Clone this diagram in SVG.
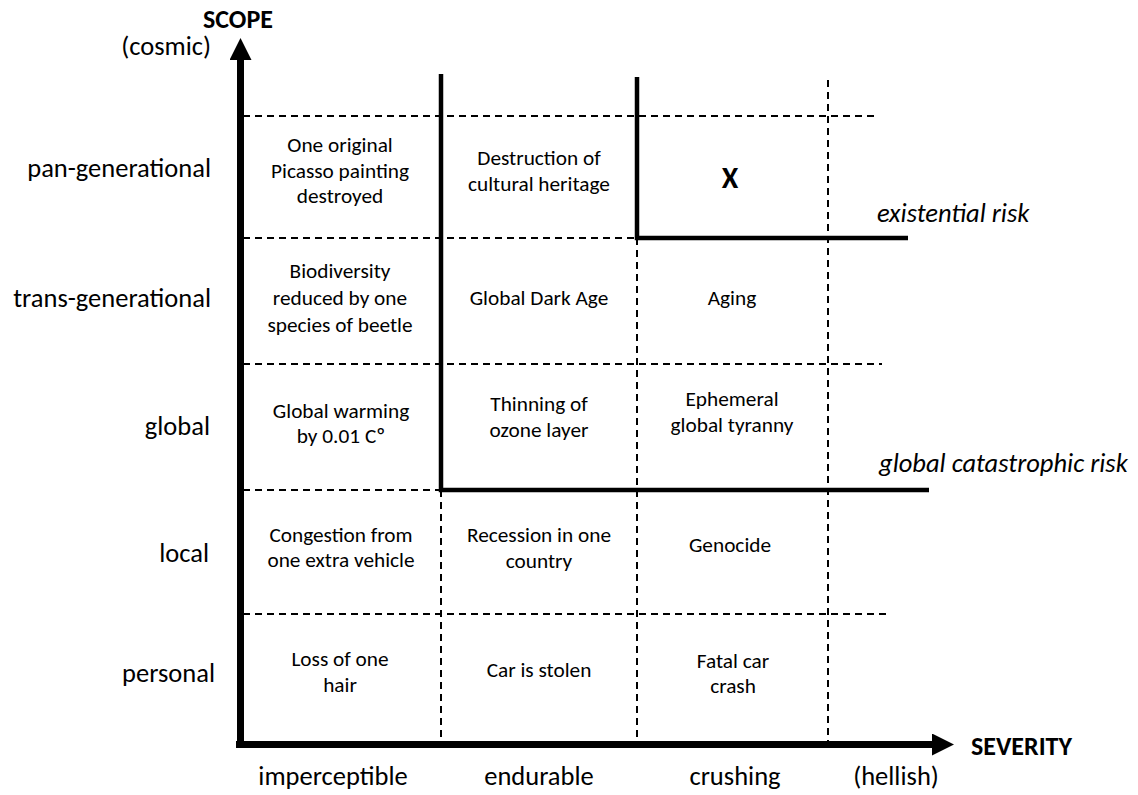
<svg xmlns="http://www.w3.org/2000/svg" width="1138" height="795" viewBox="0 0 1138 795">
<style>
text{font-family:Carlito,Calibri,Lato,"Liberation Sans",sans-serif;fill:#000}
.cell{font-size:21.3px;text-anchor:middle}
.lab{font-size:26.5px;text-anchor:end}
.bot{font-size:26.5px;text-anchor:middle}
.ax{font-size:26px;font-weight:bold}
.risk{font-size:26.5px;font-style:italic}
.dash{stroke:#000;stroke-width:2;stroke-dasharray:7 5;fill:none}
.solid{stroke:#000;stroke-width:4.5;fill:none}
.axis{stroke:#000;stroke-width:7;fill:none}
</style>
<defs>
<marker id="arr" markerUnits="userSpaceOnUse" markerWidth="22" markerHeight="22" refX="0" refY="10" orient="auto" viewBox="0 0 20 20">
<path d="M0,0 L20,10 L0,20 Z" fill="#000"/>
</marker>
</defs>
<rect width="1138" height="795" fill="#fff"/>
<g id="connectors">
<g id="grid">
<line class="dash" x1="243" y1="116" x2="878" y2="116"/>
<line class="dash" x1="243" y1="238" x2="637" y2="238"/>
<line class="dash" x1="243" y1="364" x2="882" y2="364"/>
<line class="dash" x1="243" y1="490" x2="441" y2="490"/>
<line class="dash" x1="243" y1="614" x2="890" y2="614"/>
<line class="dash" x1="441" y1="490" x2="441" y2="741"/>
<line class="dash" x1="637" y1="238" x2="637" y2="741"/>
<line class="dash" x1="828" y1="80" x2="828" y2="741"/>
</g>
<g id="gcr-boundary">
<path class="solid" d="M441,74 L441,490 L929,490"/>
</g>
<g id="xrisk-boundary">
<path class="solid" d="M637,77 L637,238 L908,238"/>
</g>
<g id="axes">
<line class="axis" x1="240.5" y1="748" x2="240.5" y2="60" marker-end="url(#arr)"/>
<line class="axis" x1="236" y1="744.5" x2="932" y2="744.5" marker-end="url(#arr)"/>
</g>
</g>
<g id="axis-labels">
<text class="ax" x="203" y="28">SCOPE</text>
<text class="ax" x="971" y="755">SEVERITY</text>
</g>
<g id="scope-labels">
<text class="lab" x="211" y="55">(cosmic)</text>
<text class="lab" x="211" y="177">pan-generational</text>
<text class="lab" x="211" y="307">trans-generational</text>
<text class="lab" x="210" y="435">global</text>
<text class="lab" x="209" y="562">local</text>
<text class="lab" x="215" y="682">personal</text>
</g>
<g id="severity-labels">
<text class="bot" x="333" y="785">imperceptible</text>
<text class="bot" x="539" y="785">endurable</text>
<text class="bot" x="735" y="785">crushing</text>
<text class="bot" x="896" y="785">(hellish)</text>
</g>
<g id="risk-labels">
<text class="risk" x="877" y="222">existential risk</text>
<text class="risk" x="879" y="472">global catastrophic risk</text>
</g>
<g id="cell-picasso"><text class="cell" x="340" y="152">One original</text><text class="cell" x="340" y="178">Picasso painting</text><text class="cell" x="340" y="203">destroyed</text></g>
<g id="cell-heritage"><text class="cell" x="539" y="165">Destruction of</text><text class="cell" x="539" y="191">cultural heritage</text></g>
<g id="cell-x"><text x="730" y="188" style="font-size:30px;font-weight:bold;text-anchor:middle">X</text></g>
<g id="cell-beetle"><text class="cell" x="340" y="278">Biodiversity</text><text class="cell" x="340" y="305">reduced by one</text><text class="cell" x="340" y="332">species of beetle</text></g>
<g id="cell-darkage"><text class="cell" x="539" y="305">Global Dark Age</text></g>
<g id="cell-aging"><text class="cell" x="732" y="305">Aging</text></g>
<g id="cell-warming"><text class="cell" x="341" y="418">Global warming</text><text class="cell" x="341" y="443">by 0.01 Cº</text></g>
<g id="cell-ozone"><text class="cell" x="539" y="411">Thinning of</text><text class="cell" x="539" y="437">ozone layer</text></g>
<g id="cell-tyranny"><text class="cell" x="732" y="406">Ephemeral</text><text class="cell" x="732" y="432">global tyranny</text></g>
<g id="cell-congestion"><text class="cell" x="341" y="542">Congestion from</text><text class="cell" x="341" y="567">one extra vehicle</text></g>
<g id="cell-recession"><text class="cell" x="539" y="542">Recession in one</text><text class="cell" x="539" y="568">country</text></g>
<g id="cell-genocide"><text class="cell" x="730" y="552">Genocide</text></g>
<g id="cell-hair"><text class="cell" x="340" y="666">Loss of one</text><text class="cell" x="340" y="692">hair</text></g>
<g id="cell-car"><text class="cell" x="539" y="677">Car is stolen</text></g>
<g id="cell-crash"><text class="cell" x="733" y="668">Fatal car</text><text class="cell" x="733" y="693">crash</text></g>
</svg>
